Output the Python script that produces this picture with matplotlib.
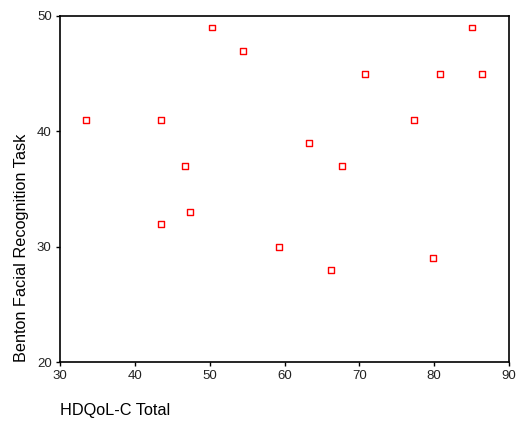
import matplotlib
matplotlib.use("Agg")
from matplotlib import pyplot as plt

plt.rcParams['font.family'] = ['Liberation Sans', 'DejaVu Sans']

hdqol_total = [33.5, 43.5, 43.5, 46.7, 47.4, 50.3, 54.5, 59.3, 63.3,
               66.2, 67.7, 70.8, 77.3, 79.8, 80.8, 85.1, 86.4]
benton_score = [41, 41, 32, 37, 33, 49, 47, 30, 39,
                28, 37, 45, 41, 29, 45, 49, 45]

x_ticks = [30, 40, 50, 60, 70, 80, 90]
y_ticks = [20, 30, 40, 50]

fig = plt.figure(figsize=(5.18, 4.23), dpi=100)
ax = fig.add_axes([60 / 518, 61 / 423, 449 / 518, 346 / 423])

ax.scatter(hdqol_total, benton_score, marker='s', s=18, facecolors='none',
           edgecolors='#ff0000', linewidths=1.0)

ax.set_xlim(30, 90)
ax.set_ylim(20, 50)
ax.set_xticks(x_ticks)
ax.set_yticks(y_ticks)
ax.tick_params(direction='out', length=3, width=1, labelsize=9.5, pad=3,
               labelcolor='#222222')
for spine in ax.spines.values():
    spine.set_linewidth(1.2)

ax.set_xlabel('HDQoL-C Total', fontsize=11.7, loc='left', labelpad=15)
ax.set_ylabel('Benton Facial Recognition Task', fontsize=11.7, loc='bottom', labelpad=6)

fig.savefig('out.png', dpi=100)
